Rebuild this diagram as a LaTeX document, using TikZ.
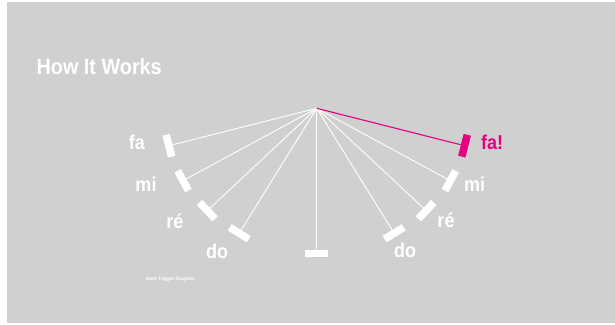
\documentclass[tikz,border=0pt]{standalone}
\usepackage{fontspec}
\setmainfont{Liberation Sans}
\newfontfamily\condfont[FakeStretch=0.9]{Liberation Sans}
\usetikzlibrary{calc}
\definecolor{bg}{HTML}{D0D0D0}
\definecolor{hot}{HTML}{E6007E}
\begin{document}
\begin{tikzpicture}[x=1pt,y=-1pt,
  bar/.style={fill=white, minimum width=7.5pt, minimum height=22.5pt, inner sep=0pt, draw=none},
  spoke/.style={white, line width=0.9pt},
  lbl/.style={text=white, font=\condfont\bfseries\fontsize{20}{22}\selectfont, inner sep=0pt}]
\useasboundingbox (0,0) rectangle (615,324);
\fill[white] (0,0) rectangle (615,324);
\fill[bg] (7,2) rectangle (615,323);
\node[anchor=base west, inner sep=0pt, text=white, font=\condfont\bfseries\fontsize{22}{24}\selectfont] (title) at (36.5,74) {How It Works};
\node[inner sep=0pt, text=white, font=\bfseries\fontsize{4.8}{5}\selectfont] (cap) at (170.5,279.5) {Note Trigger Diagram};
\coordinate (hub) at (316.7,108.3);
% left bars
\node[bar, rotate=14.2] (lfa) at ($(hub)+(165.8:152.5)$) {};
\node[bar, rotate=28.45] (lmi) at ($(hub)+(151.55:152)$) {};
\node[bar, rotate=43.1] (lre) at ($(hub)+(136.9:149.8)$) {};
\node[bar, rotate=58.2] (ldo) at ($(hub)+(121.8:147)$) {};
\node[bar, rotate=90] (mid) at ($(hub)+(90:145)$) {};
% right bars
\node[bar, fill=hot, rotate=-14.2] (rfa) at ($(hub)+(14.2:152.5)$) {};
\node[bar, rotate=-28.45] (rmi) at ($(hub)+(28.45:152)$) {};
\node[bar, rotate=-43.1] (rre) at ($(hub)+(43.1:149.8)$) {};
\node[bar, rotate=-58.2] (rdo) at ($(hub)+(58.2:147)$) {};
% spokes
\foreach \b in {lfa,lmi,lre,ldo,mid,rmi,rre,rdo} {\draw[spoke] (hub) -- (\b);}
\draw[hot, line width=1.1pt] (hub) -- (rfa);
% labels
\node[lbl] (tlfa) at (137,142) {fa};
\node[lbl] (tlmi) at (146,184) {mi};
\node[lbl] (tlre) at (175,221) {ré};
\node[lbl] (tldo) at (217,251) {do};
\node[lbl, text=hot] (trfa) at (492,142) {fa!};
\node[lbl] (trmi) at (474.5,184) {mi};
\node[lbl] (trre) at (446,220) {ré};
\node[lbl] (trdo) at (405,250) {do};
\end{tikzpicture}
\end{document}
